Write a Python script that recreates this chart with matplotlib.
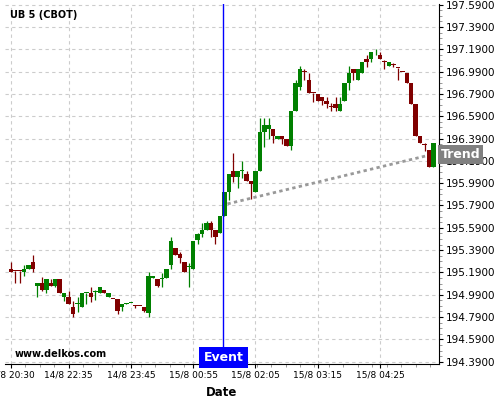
import numpy as np
import matplotlib.pyplot as plt
from matplotlib.ticker import AutoMinorLocator
import matplotlib.transforms as mtransforms

#candele a 5 minuti, l'indice e' la posizione sull'asse x (pausa 21:00-22:00 saltata)
opens = [195.221, 195.205, 195.205, 195.197, 195.221, 195.281, 195.071, 195.093, 195.032, 195.093,
         195.071, 195.131, 194.972, 194.972, 194.883, 194.911, 194.883, 195.003, 195.003, 195.010,
         195.008, 195.032, 194.972, 194.953, 194.951, 194.883, 194.911, 194.913, 194.890, 194.890,
         194.883, 194.823, 195.140, 195.131, 195.135, 195.137, 195.256, 195.406, 195.352, 195.281,
         195.240, 195.221, 195.481, 195.534, 195.570, 195.630, 195.570, 195.540, 195.699, 195.914,
         196.099, 196.043, 196.097, 196.072, 196.012, 195.914, 196.102, 196.452, 196.476, 196.476,
         196.389, 196.416, 196.386, 196.326, 196.640, 196.855, 196.986, 196.915, 196.797, 196.789,
         196.760, 196.729, 196.678, 196.697, 196.640, 196.729, 196.891, 197.010, 196.915, 196.981,
         197.103, 197.103, 197.162, 197.139, 197.080, 197.040, 197.050, 197.020, 196.985, 196.981,
         196.891, 196.700, 196.413, 196.333, 196.288, 196.139]
highs = [195.281, 195.205, 195.205, 195.257, 195.257, 195.346, 195.093, 195.152, 195.131, 195.131,
         195.131, 195.131, 195.003, 195.026, 194.937, 194.972, 195.003, 195.005, 195.062, 195.032,
         195.062, 195.032, 195.008, 194.953, 194.951, 194.907, 194.913, 194.915, 194.897, 194.890,
         194.883, 195.191, 195.158, 195.131, 195.182, 195.221, 195.505, 195.412, 195.376, 195.286,
         195.272, 195.472, 195.540, 195.630, 195.654, 195.654, 195.570, 195.700, 195.908, 196.072,
         196.258, 196.099, 196.192, 196.099, 196.012, 196.099, 196.572, 196.572, 196.572, 196.476,
         196.416, 196.416, 196.386, 196.640, 196.915, 197.040, 197.013, 196.975, 196.797, 196.789,
         196.760, 196.765, 196.706, 196.760, 196.760, 196.891, 197.040, 197.010, 197.010, 197.079,
         197.139, 197.163, 197.190, 197.163, 197.094, 197.073, 197.070, 197.020, 196.985, 196.981,
         196.891, 196.700, 196.413, 196.347, 196.288, 196.347]
lows = [195.197, 195.093, 195.093, 195.158, 195.221, 195.191, 194.967, 195.026, 195.003, 195.071,
        195.062, 195.003, 194.937, 194.907, 194.788, 194.838, 194.883, 194.907, 194.928, 194.943,
        195.008, 195.008, 194.972, 194.950, 194.817, 194.847, 194.911, 194.913, 194.868, 194.887,
        194.838, 194.788, 195.140, 195.062, 195.062, 195.137, 195.218, 195.346, 195.277, 195.197,
        195.062, 195.221, 195.445, 195.510, 195.570, 195.510, 195.445, 195.540, 195.699, 195.839,
        196.003, 195.944, 196.034, 196.012, 195.848, 195.914, 196.102, 196.317, 196.383, 196.348,
        196.389, 196.342, 196.326, 196.288, 196.640, 196.825, 196.915, 196.795, 196.720, 196.729,
        196.691, 196.661, 196.640, 196.640, 196.640, 196.729, 196.825, 196.915, 196.915, 196.981,
        197.034, 197.079, 197.139, 197.103, 197.010, 197.040, 197.028, 196.915, 196.984, 196.891,
        196.700, 196.413, 196.353, 196.282, 196.139, 196.139]
closes = [195.197, 195.200, 195.200, 195.221, 195.257, 195.221, 195.093, 195.032, 195.131, 195.071,
          195.131, 195.008, 195.003, 194.907, 194.817, 194.915, 195.003, 195.005, 194.972, 195.020,
          195.062, 195.008, 195.008, 194.950, 194.847, 194.907, 194.913, 194.915, 194.888, 194.887,
          194.847, 195.158, 195.158, 195.071, 195.137, 195.221, 195.472, 195.346, 195.322, 195.197,
          195.245, 195.472, 195.531, 195.570, 195.630, 195.570, 195.510, 195.696, 195.908, 196.072,
          196.043, 196.099, 196.099, 196.012, 195.980, 196.099, 196.452, 196.512, 196.512, 196.416,
          196.416, 196.386, 196.326, 196.640, 196.885, 197.013, 196.984, 196.795, 196.795, 196.729,
          196.729, 196.700, 196.676, 196.667, 196.697, 196.891, 196.975, 196.981, 197.010, 197.079,
          197.079, 197.163, 197.163, 197.103, 197.079, 197.073, 197.049, 197.019, 196.984, 196.891,
          196.700, 196.413, 196.353, 196.332, 196.139, 196.347]

#etichette asse x (indice candela -> ora)
xtick_pos = [0, 13, 27, 41, 55, 69, 83]
xtick_lab = ["14/8 20:30", "14/8 22:35", "14/8 23:45", "15/8 00:55",
             "15/8 02:05", "15/8 03:15", "15/8 04:25"]
ytick_pos = [194.39, 194.59, 194.79, 194.99, 195.19, 195.39, 195.59, 195.79,
             195.99, 196.19, 196.39, 196.59, 196.79, 196.99, 197.19, 197.39, 197.59]

#evento e retta di tendenza
event_x = 47.8
trend_x = [48.7, 93.5]
trend_y = [195.804, 196.236]

green = "#008000"
red = "#800000"

o = np.array(opens)
h = np.array(highs)
l = np.array(lows)
c = np.array(closes)
x = np.arange(len(o))
col = [green if cc >= oo else red for oo, cc in zip(o, c)]

fig = plt.figure(figsize=(5, 4), dpi=100)
ax = fig.add_axes([0.01, 0.09, 0.868, 0.90])

ax.grid(True, which="major", color="#cccccc", linestyle=(0, (3, 3)), linewidth=0.8)
ax.set_axisbelow(True)

#ombre e corpi
ax.vlines(x, l, h, colors=col, linewidth=0.9, zorder=2)
bottom = np.minimum(o, c)
height = np.maximum(np.abs(c - o), 0.008)
ax.bar(x, height, bottom=bottom, width=1.0, color=col, linewidth=0, zorder=3)

#tendenza
ax.plot(trend_x, trend_y, color="#999999", linestyle=(0, (1.2, 1.2)), linewidth=2, zorder=4)

#linea evento
ax.axvline(event_x, color="#0000ff", linewidth=1, zorder=5)

ax.set_xlim(-1.3, 96.25)
ax.set_ylim(194.369, 197.596)

ax.set_xticks(xtick_pos)
ax.set_xticklabels(xtick_lab, fontsize=6.5)
ax.xaxis.set_minor_locator(AutoMinorLocator(4))
ax.yaxis.tick_right()
ax.set_yticks(ytick_pos)
ax.set_yticklabels(["%.4f" % v for v in ytick_pos], fontsize=7.5)
ax.yaxis.set_minor_locator(AutoMinorLocator(4))
ax.tick_params(axis="both", which="major", length=3, width=0.8, pad=2)
ax.tick_params(axis="both", which="minor", length=2, width=0.6, color="#888888")
ax.spines["left"].set_visible(False)
ax.spines["top"].set_visible(False)

ax.set_xlabel("Date", fontsize=8.5, fontweight="bold", labelpad=4)

fig.text(10 / 500, 1 - 15.5 / 400, "UB 5 (CBOT)", fontsize=7, fontweight="bold", va="center")
fig.text(15 / 500, 1 - 354 / 400, "www.delkos.com", fontsize=7, fontweight="bold", va="center")

ax.text(event_x, 194.369, "Event", color="white", fontsize=9, fontweight="bold",
        ha="center", va="bottom", zorder=6,
        bbox=dict(boxstyle="square,pad=0.35", facecolor="#0000ff", edgecolor="none"))

trans = mtransforms.blended_transform_factory(ax.transAxes, ax.transData)
ax.text(1.004, 196.246, "Trend", transform=trans, color="white", fontsize=9, fontweight="bold",
        ha="left", va="center", zorder=6, clip_on=False,
        bbox=dict(boxstyle="square,pad=0.25", facecolor="#808080", edgecolor="none"))

fig.savefig("out.png", dpi=100)
